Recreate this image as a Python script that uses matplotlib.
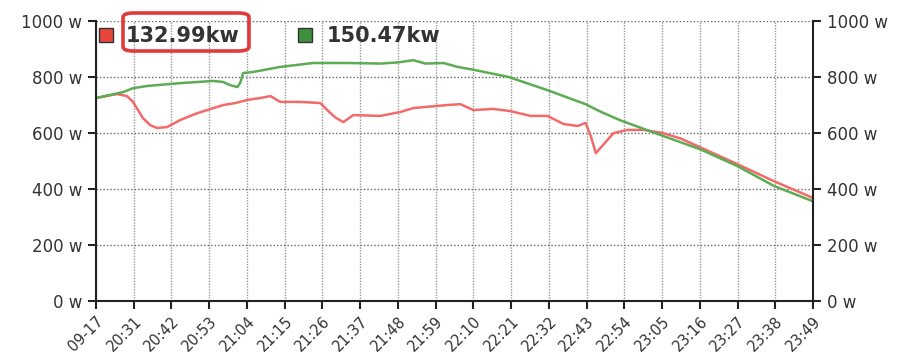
import matplotlib.pyplot as plt
from matplotlib.patches import FancyBboxPatch, Rectangle

# minutes after 20:20 (first tick, labelled with the date)
red_t = [0, 6.1, 9.0, 10.8, 13.7, 15.8, 17.8, 20.7, 24.5, 28.9, 32.4, 37.1, 40.6, 44.1,
         47.9, 50.8, 53.7, 59.5, 65.4, 67.4, 69.8, 72.1, 75.0, 82.9, 88.7, 92.5, 102.5,
         106.2, 110.0, 115.9, 120.8, 126.7, 131.6, 136.3, 140.4, 142.7, 144.2, 145.7,
         148.0, 150.9, 155.0, 159.7, 165.2, 170.5, 176.3, 187.1, 197.6, 209]
red_w = [725, 739, 732, 711, 653, 628, 618, 621, 646, 668, 682, 700, 707, 718,
         725, 732, 711, 711, 707, 682, 655, 639, 664, 661, 675, 689, 700,
         703, 682, 686, 678, 661, 661, 632, 625, 636, 590, 528,
         560, 600, 611, 611, 600, 580, 548, 488, 428, 368]

green_t = [0, 7.9, 10.8, 14.9, 24.5, 34.2, 37.1, 39.1, 41.2, 42.0, 42.9, 45.8, 53.7,
           63.3, 73.3, 82.9, 88.0, 92.5, 96.0, 101.3, 105.4, 110.0, 120.3,
           131.6, 142.7, 147.1, 152.9, 165.2, 176.3, 187.1, 197.6, 209]
green_w = [725, 746, 760, 768, 778, 786, 782, 771, 764, 778, 814, 818, 836,
           850, 850, 848, 852, 860, 848, 850, 836, 826, 800,
           753, 703, 676, 645, 590, 541, 481, 411, 356]

x_ticks = list(range(0, 210, 11))
x_labels = ['09-17', '20:31', '20:42', '20:53', '21:04', '21:15', '21:26', '21:37',
            '21:48', '21:59', '22:10', '22:21', '22:32', '22:43', '22:54', '23:05',
            '23:16', '23:27', '23:38', '23:49']
y_ticks = [0, 200, 400, 600, 800, 1000]
legend_labels = ['132.99kw', '150.47kw']
legend_colors = ['#e8463c', '#3f8f3c']

fig = plt.figure(figsize=(9.01, 3.62), dpi=100)
ax = fig.add_axes([96 / 901, 1 - 301 / 362, 717 / 901, 280 / 362])

ax.plot(red_t, red_w, color='#f36a6a', lw=1.8, solid_joinstyle='round')
ax.plot(green_t, green_w, color='#5bac52', lw=1.8, solid_joinstyle='round')

ax.set_xlim(0, 209)
ax.set_ylim(0, 1000)
ax.set_xticks(x_ticks)
ax.set_xticklabels(x_labels, rotation=45, ha='right', rotation_mode='anchor', fontsize=10.5)
ax.set_yticks(y_ticks)
ax.set_yticklabels([f'{v} w' for v in y_ticks])

ax.xaxis.grid(True, linestyle=(0, (1, 1)), color='#9a9a9a', lw=1)
ax.yaxis.grid(True, linestyle=(0, (1, 1.5)), color='#666666', lw=1)
ax.set_axisbelow(True)

ax.spines['top'].set_visible(False)
for s in ['left', 'bottom', 'right']:
    ax.spines[s].set_linewidth(1.5)
    ax.spines[s].set_color('#222222')

ax.tick_params(axis='both', direction='out', length=6, width=1.5, color='#222222',
               labelcolor='#333333')
ax.tick_params(axis='y', right=True, labelright=True, pad=4, labelsize=12)
ax.tick_params(axis='x', pad=3)

# legend drawn by hand in figure pixels
def fx(px):
    return px / 901

def fy(py):
    return 1 - py / 362

for i, (lab, col) in enumerate(zip(legend_labels, legend_colors)):
    x0 = [99, 298][i]
    fig.patches.append(Rectangle((fx(x0), fy(42)), 14 / 901, 14 / 362, transform=fig.transFigure,
                                 facecolor=col, edgecolor='#333333', lw=1))
    fig.text(fx([126, 327][i]), fy(36), lab, fontsize=15, fontweight='bold',
             color='#333333', va='center', ha='left')

# red highlight around first value
fig.patches.append(FancyBboxPatch((fx(123), fy(51)), 126 / 901, 38 / 362,
                                  boxstyle='round,pad=0,rounding_size=0.012',
                                  transform=fig.transFigure, facecolor='none',
                                  edgecolor='#e03a3a', lw=2.6))

fig.savefig('out.png', dpi=100)
